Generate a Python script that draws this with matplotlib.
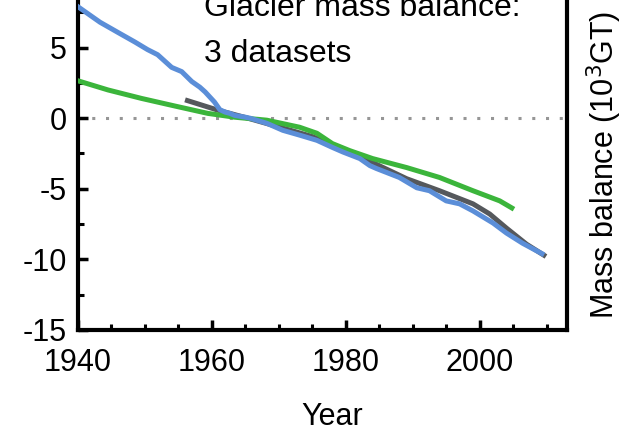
import matplotlib.pyplot as plt
from matplotlib.ticker import MultipleLocator

# cumulative glacier mass balance, three datasets (10^3 GT)
blue_years = [1940, 1941.5, 1943.3, 1946, 1948.5, 1950.4, 1951.9, 1954, 1955.5,
              1957, 1958.2, 1959, 1960.4, 1961.2, 1962, 1962.7, 1963.4, 1965,
              1965.7, 1968.2, 1970.6, 1973.1, 1975.7, 1978, 1979.6, 1982.1,
              1983.6, 1984.6, 1988, 1990.6, 1992.5, 1995, 1997, 1999, 2002,
              2004, 2006.4, 2009.3]
blue_vals = [7.9, 7.4, 6.8, 6.07, 5.4, 4.86, 4.5, 3.6, 3.3,
             2.6, 2.2, 1.86, 1.14, 0.6, 0.43, 0.34, 0.2, 0.07,
             0.0, -0.36, -0.86, -1.2, -1.57, -2.07, -2.4, -2.86,
             -3.36, -3.57, -4.2, -4.93, -5.14, -5.86, -6.07, -6.57, -7.43,
             -8.14, -8.86, -9.6]

green_years = [1940, 1944.5, 1949.5, 1954.5, 1959.4, 1963.4, 1968.2, 1973.1,
               1975.7, 1978, 1980.6, 1984, 1989.1, 1994, 1999, 2003, 2004.8]
green_vals = [2.65, 2.0, 1.4, 0.86, 0.34, 0.07, -0.14, -0.64,
              -1.07, -1.8, -2.3, -2.86, -3.5, -4.2, -5.14, -5.86, -6.36]

gray_years = [1956, 1960.9, 1965, 1970.6, 1975, 1979, 1984, 1989.1, 1994,
              1999, 2001.5, 2004, 2007, 2009.9]
gray_vals = [1.3, 0.57, 0.05, -0.7, -1.3, -2.1, -3.14, -4.29, -5.14,
             -6.07, -6.79, -7.79, -8.93, -9.8]

plt.rcParams["font.family"] = ["Liberation Sans", "DejaVu Sans"]

fig = plt.figure(figsize=(6.44, 4.41), dpi=100)
ax = fig.add_axes([0.121, 0.252, 0.759, 0.800])

ax.axhline(0, color="#969696", lw=2.2, linestyle=(0, (1, 3.5)), zorder=1)
ax.plot(gray_years, gray_vals, color="#55585c", lw=3.6, zorder=2,
        solid_capstyle="butt")
ax.plot(green_years, green_vals, color="#3bb53b", lw=3.6, zorder=3)
ax.plot(blue_years, blue_vals, color="#5b8ed8", lw=3.6, zorder=4)

ax.set_xlim(1940, 2013)
ax.set_ylim(-15, 10)
ax.set_xticks([1940, 1960, 1980, 2000])
ax.set_yticks([-15, -10, -5, 0, 5])
ax.set_yticklabels(["-15", "-10", "-5", "0", "5"])
ax.xaxis.set_minor_locator(MultipleLocator(5))
ax.yaxis.set_minor_locator(MultipleLocator(2.5))
ax.tick_params(axis="both", which="major", direction="in", length=7,
               width=2.5, labelsize=22, pad=8)
ax.tick_params(axis="both", which="minor", direction="in", length=4,
               width=2.2)
ax.tick_params(axis="x", which="major", pad=13)

for side in ["left", "bottom", "right", "top"]:
    ax.spines[side].set_linewidth(3)

ax.set_xlabel("Year", fontsize=22)
ax.xaxis.set_label_coords(0.52, -0.205)
ax.yaxis.set_label_position("right")
ax.set_ylabel("Mass balance (10$^3$GT)", fontsize=22)
ax.yaxis.set_label_coords(1.037, 0.468)

ax.text(1958.9, 7.25, "Glacier mass balance:", fontsize=23, va="baseline")
ax.text(1958.9, 3.95, "3 datasets", fontsize=23, va="baseline")

plt.savefig("out.png", dpi=100)
